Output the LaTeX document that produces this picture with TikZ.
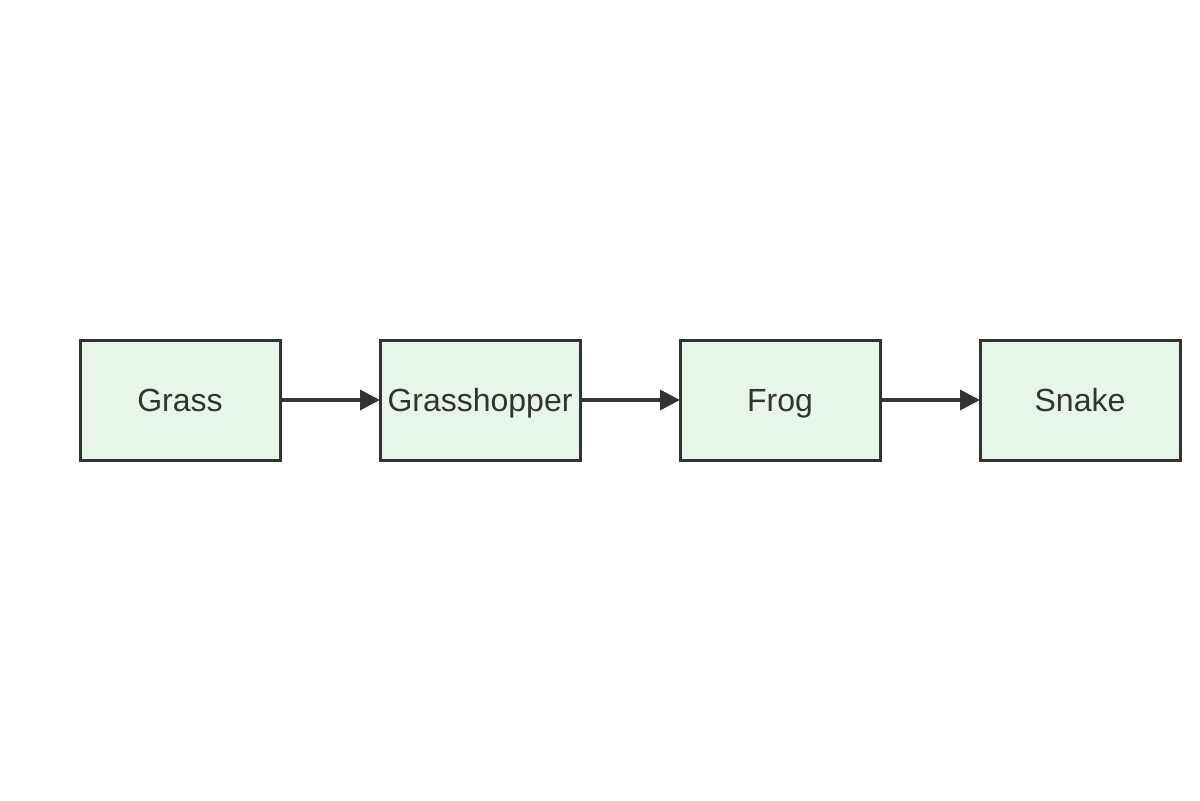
\documentclass[tikz,border=0pt]{standalone}
\usepackage{fontspec}
\setmainfont{Liberation Sans}
\usetikzlibrary{arrows.meta}
\definecolor{boxfill}{HTML}{E8F5E9}
\definecolor{ink}{HTML}{333333}
\begin{document}
\begin{tikzpicture}[x=0.5pt,y=-0.5pt,
  box/.style={draw=ink,fill=boxfill,line width=1.5pt,minimum width=100pt,minimum height=60pt,inner sep=0pt,text height=11.6pt,text depth=0pt,font=\fontsize{16pt}{19pt}\selectfont,text=ink},
  conn/.style={draw=ink,line width=1.75pt,shorten >=-0.75pt,-{Triangle[length=10pt,width=10pt]}}]
\useasboundingbox (0,0) rectangle (1200,800);
\node[box] (grass) at (180,400) {Grass};
\node[box] (hopper) at (480,400) {Grasshopper};
\node[box] (frog) at (780,400) {Frog};
\node[box] (snake) at (1080,400) {Snake};
\draw[conn] (grass) -- (hopper);
\draw[conn] (hopper) -- (frog);
\draw[conn] (frog) -- (snake);
\end{tikzpicture}
\end{document}
